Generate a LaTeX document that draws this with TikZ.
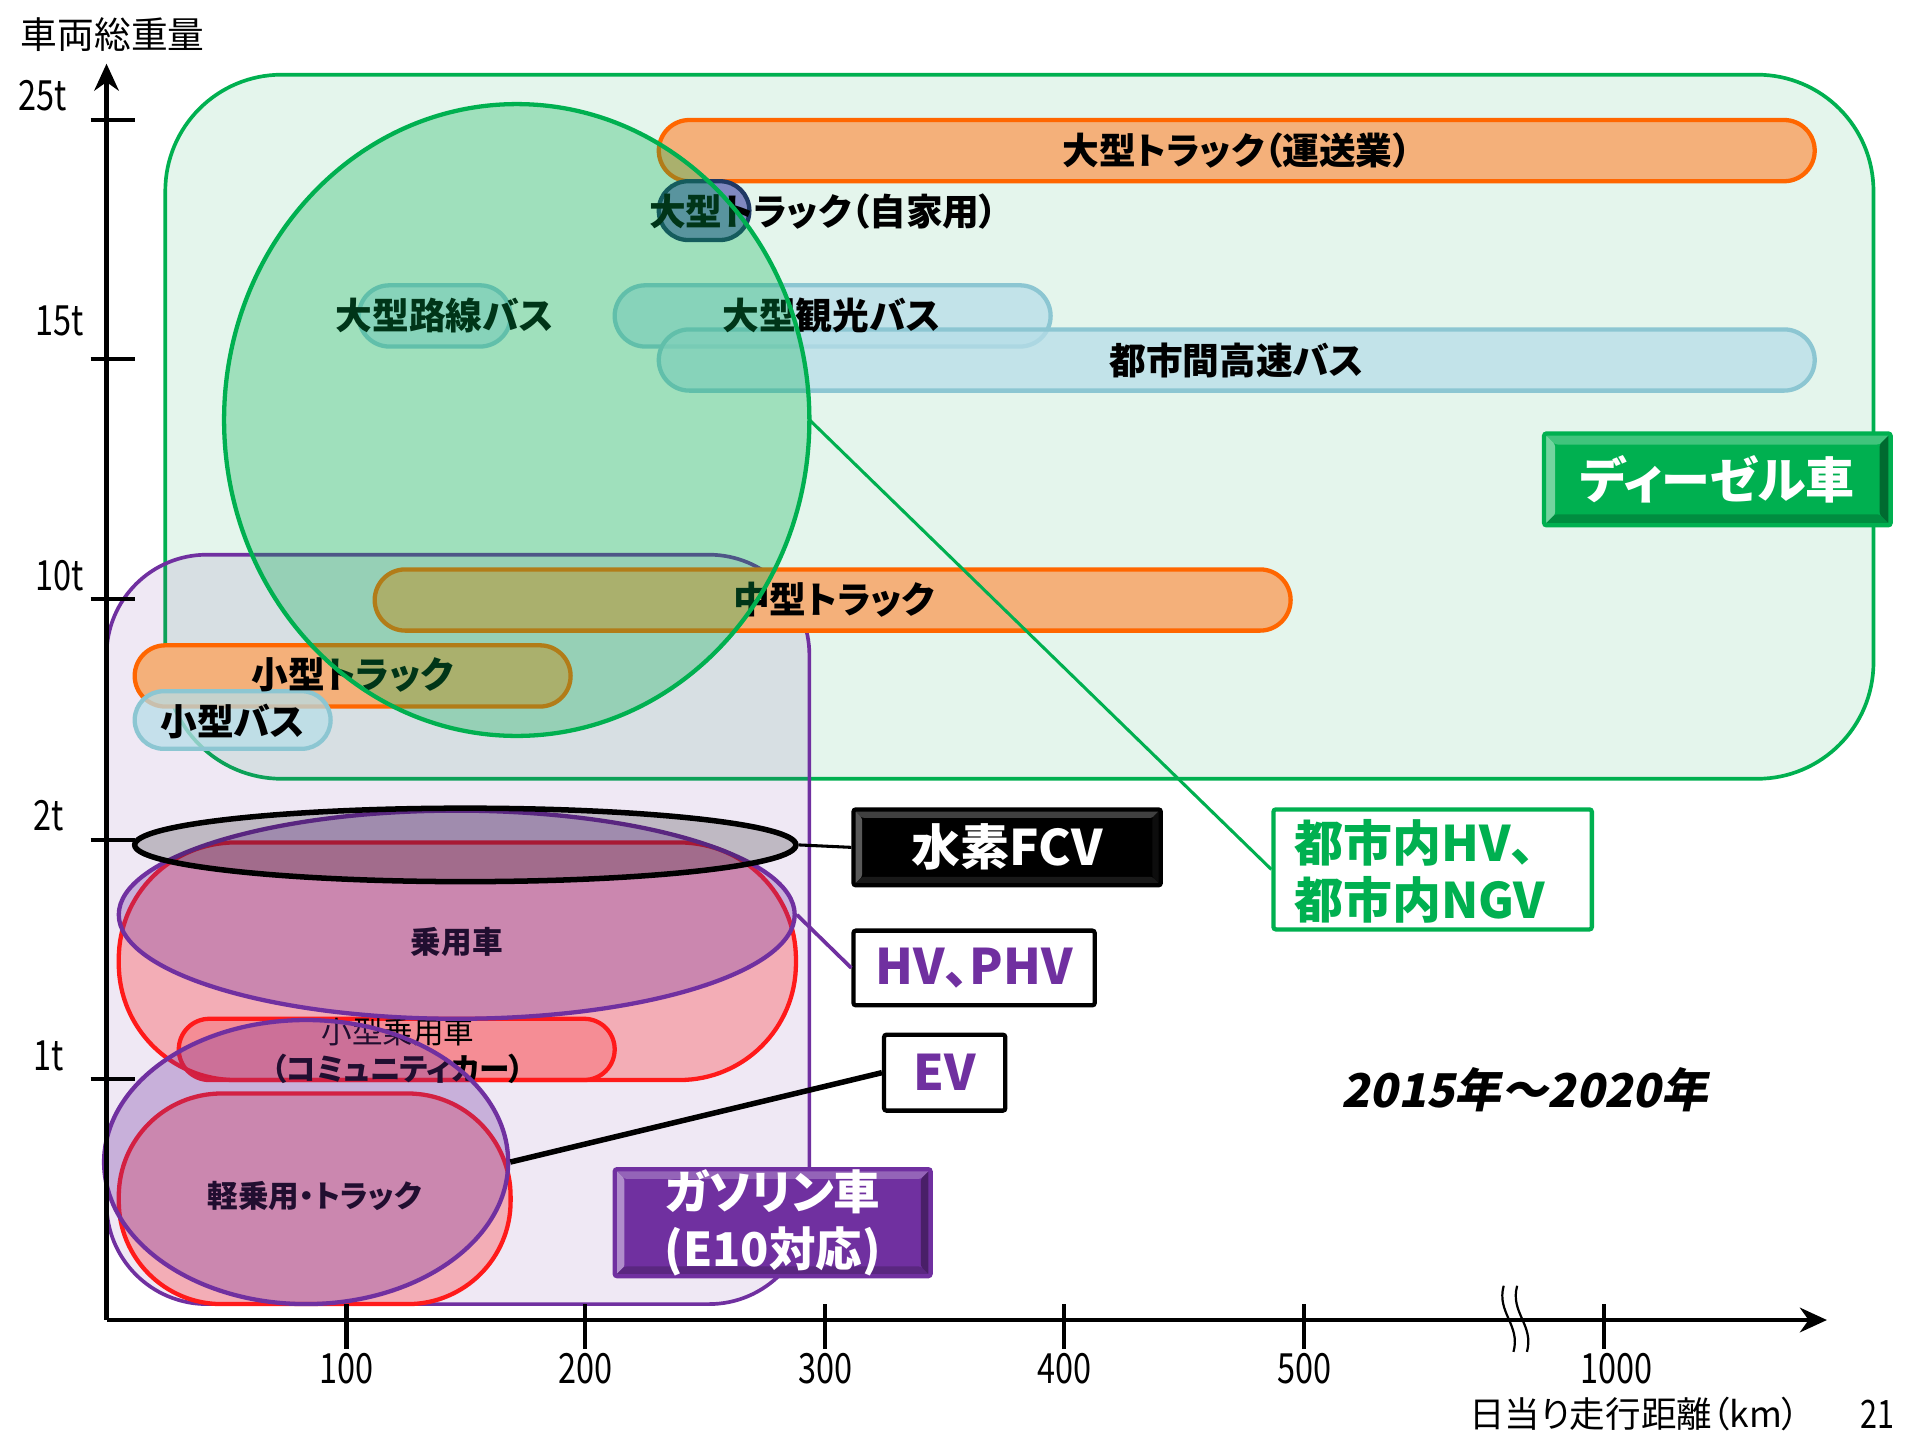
\documentclass[tikz,border=0pt]{standalone}
\usepackage{fontspec}
\setmainfont{Noto Sans CJK JP}[RawFeature={+palt}]
\newfontfamily\narrowf{Noto Sans CJK JP}[FakeStretch=0.78]
\newfontfamily\slantf{Noto Sans CJK JP}[FakeSlant=0.2,RawFeature={+palt}]
\usetikzlibrary{shapes.misc,shapes.geometric,arrows.meta}
\definecolor{dgreen}{HTML}{00B050}
\definecolor{dbg}{HTML}{E4F5EC}
\definecolor{vpurple}{HTML}{7030A0}
\definecolor{tfill}{HTML}{F4B07A}
\definecolor{tline}{HTML}{FF6600}
\definecolor{bfill}{HTML}{B7DEE8}
\definecolor{bline}{HTML}{8CC6D2}
\definecolor{navy}{HTML}{1F3864}
\definecolor{jfill}{HTML}{8088C0}
\definecolor{rline}{HTML}{FF1A1A}
\begin{document}
\begin{tikzpicture}[x=1pt,y=-1pt,
  pill/.style={rounded rectangle, inner sep=0pt, line width=3.5pt},
  truck/.style={pill, draw=tline, fill=tfill},
  bus/.style={pill, draw=bline, fill=bfill, fill opacity=0.75},
  lab/.style={inner sep=0pt, font=\fontsize{30}{34}\selectfont\bfseries},
  ell/.style={ellipse, inner sep=0pt},
  tickmark/.style={line width=3.5pt},
  ticklab/.style={inner sep=0pt, font=\narrowf\fontsize{34}{38}\selectfont},
  keybox/.style={rectangle, inner sep=0pt, line width=3.5pt, rounded corners=2pt},
  keytext/.style={font=\fontsize{40}{46}\selectfont\bfseries},
  bevel/.style n args={5}{path picture={
    \fill[#1] (path picture bounding box.north west) -- (path picture bounding box.north east) -- ([shift={(-#5,-#5)}]path picture bounding box.north east) -- ([shift={(#5,-#5)}]path picture bounding box.north west) -- cycle;
    \fill[#2] (path picture bounding box.north west) -- ([shift={(#5,-#5)}]path picture bounding box.north west) -- ([shift={(#5,#5)}]path picture bounding box.south west) -- (path picture bounding box.south west) -- cycle;
    \fill[#3] (path picture bounding box.south west) -- ([shift={(#5,#5)}]path picture bounding box.south west) -- ([shift={(-#5,#5)}]path picture bounding box.south east) -- (path picture bounding box.south east) -- cycle;
    \fill[#4] (path picture bounding box.south east) -- ([shift={(-#5,#5)}]path picture bounding box.south east) -- ([shift={(-#5,-#5)}]path picture bounding box.north east) -- (path picture bounding box.north east) -- cycle;
  }}
]
\useasboundingbox (0,0) rectangle (1568,1176);
\fill[white] (0,0) rectangle (1568,1176);

% diesel region
\draw[dgreen, fill=dbg, line width=3pt, rounded corners=95pt] (135,61) rectangle (1530,636);
% gasoline region
\draw[vpurple, fill=vpurple, fill opacity=0.11, line width=3pt, rounded corners=82pt] (87,453) rectangle (661,1065);

% heavy vehicle bars
\node[truck, minimum width=944pt, minimum height=50pt] (t1) at (1010,123) {};
\node[pill, draw=navy, fill=jfill, minimum width=74pt, minimum height=48pt] (t2) at (575,172) {};
\node[bus, minimum width=124pt, minimum height=50pt] (b1) at (355,258) {};
\node[bus, minimum width=356pt, minimum height=50pt] (b2) at (680,258) {};
\node[bus, minimum width=944pt, minimum height=50pt] (b3) at (1010,294) {};
\node[truck, minimum width=748pt, minimum height=50pt] (t3) at (680,490) {};
\node[truck, minimum width=356pt, minimum height=50pt] (t4) at (288,552) {};
\node[bus, minimum width=160pt, minimum height=47pt] (b4) at (190,588) {};

\node[lab] (l1) at (1010,123) {大型トラック（運送業）};
\node[lab, anchor=west] (l2) at (530,173) {大型トラック（自家用）};
\node[lab] (l3) at (363,258) {大型路線バス};
\node[lab] (l4) at (679,258) {大型観光バス};
\node[lab] (l5) at (1010,294) {都市間高速バス};
\node[lab] (l6) at (681,490) {中型トラック};
\node[lab] (l7) at (288,551) {小型トラック};
\node[lab] (l8) at (190,589) {小型バス};

% urban HV / NGV circle
\node[ell, fill=dgreen, fill opacity=0.3, minimum width=478pt, minimum height=516pt] (big) at (422,343) {};
\draw[dgreen, line width=3.5pt] (big.center) ellipse [x radius=239pt, y radius=258pt];

% passenger cars
\draw[rline, fill=red, fill opacity=0.25, line width=3.5pt, rounded corners=95pt] (97,688) rectangle (650,882);
\node[pill, draw=rline, fill=red, fill opacity=0.18, minimum width=356pt, minimum height=50pt] (sp) at (324,857) {};
\draw[rline, fill=red, fill opacity=0.25, line width=3.5pt, rounded corners=84pt] (97,893) rectangle (417,1065);

\node[font=\fontsize{25}{28}\selectfont\bfseries] (l9) at (373,769) {乗用車};
\node[font=\fontsize{25}{28}\selectfont] (l10) at (325,843) {小型乗用車};
\node[font=\fontsize{25}{28}\selectfont\bfseries] (l11) at (325,873) {（コミュニティカー）};
\node[font=\fontsize{25}{28}\selectfont\bfseries] (l12) at (257,977) {軽乗用・トラック};

\node[ell, draw=vpurple, line width=3.5pt, fill=vpurple, fill opacity=0.3, minimum width=552pt, minimum height=170pt] (hv) at (373,747) {};
\node[ell, draw=vpurple, line width=3.5pt, fill=vpurple, fill opacity=0.3, minimum width=330pt, minimum height=232pt] (ev) at (250,949) {};
\node[ell, draw=black, line width=4.5pt, fill=black, fill opacity=0.2, minimum width=540pt, minimum height=60pt] (fcv) at (380,690) {};

% key boxes
\node[keybox, fill=black, draw=black, minimum width=251pt, minimum height=62pt, text=white, keytext,
  bevel={black!75}{black!65}{black!90}{black!95}{7pt}] (fcvbox) at (822.5,692) {水素FCV};
\node[keybox, fill=white, draw=black, minimum width=197pt, minimum height=61pt, text=vpurple, keytext] (hvbox) at (795.5,790.5) {HV、PHV};
\node[keybox, fill=white, draw=black, minimum width=99pt, minimum height=62pt, text=vpurple, keytext] (evbox) at (771.5,876) {EV};
\node[keybox, fill=white, draw=dgreen, minimum width=260pt, minimum height=98pt] (urban) at (1170,710) {};
\node[keytext, text=dgreen, anchor=west, inner sep=0pt] (u1) at (1057,688) {都市内HV、};
\node[keytext, text=dgreen, anchor=west, inner sep=0pt] (u2) at (1057,735) {都市内NGV};
\node[keybox, fill=dgreen, draw=dgreen, minimum width=283pt, minimum height=75pt, text=white, keytext,
  bevel={dgreen!75!white}{dgreen!55!white}{dgreen!80!black}{dgreen!60!black}{9pt}] (dsl) at (1402.5,391.5) {ディーゼル車};
\node[keybox, fill=vpurple, draw=vpurple, minimum width=258pt, minimum height=87pt, text=white, align=center,
  font=\fontsize{38}{47}\selectfont\bfseries,
  bevel={vpurple!75!white}{vpurple!55!white}{vpurple!80!black}{vpurple!65!black}{8pt}] (gas) at (631,998.5) {ガソリン車\\(E10対応)};

% connectors
\draw[line width=2.5pt] (fcv.east) -- (fcvbox.west);
\draw[vpurple, line width=3pt] (hv.east) -- (hvbox.west);
\draw[line width=4.5pt] (ev.east) -- (evbox.west);
\draw[dgreen, line width=2.5pt] (big.east) -- (urban.west);

\node[font=\slantf\bfseries\fontsize{38}{42}\selectfont] (yr) at (1245,890) {2015年～2020年};

% axes
\coordinate (o) at (87,1078);
\coordinate (ytip) at (87,52);
\coordinate (xtip) at (1492,1078);
\draw[line width=4pt, -{Stealth[length=22pt,width=20pt,inset=7pt]}] (o) -- (ytip);
\draw[line width=4pt, -{Stealth[length=22pt,width=20pt,inset=7pt]}] (o) -- (xtip);
\foreach \yy in {98,293,489,686,881} \draw[tickmark] (74,\yy) -- (110,\yy);
\foreach \xx in {283,478,674,869,1065,1310} \draw[tickmark] (\xx,1065) -- (\xx,1102);
\draw[line width=1.8pt] (1228,1050) .. controls (1222,1072) and (1242,1082) .. (1236,1104);
\draw[line width=1.8pt] (1239,1050) .. controls (1233,1072) and (1253,1082) .. (1247,1104);

\node[ticklab] (y25) at (35,78) {25t};
\node[ticklab] (y15) at (49,262) {15t};
\node[ticklab] (y10) at (49,470) {10t};
\node[ticklab] (y2) at (40,666) {2t};
\node[ticklab] (y1) at (40,862) {1t};
\node[ticklab] (x100) at (283,1118) {100};
\node[ticklab] (x200) at (478,1118) {200};
\node[ticklab] (x300) at (674,1118) {300};
\node[ticklab] (x400) at (869,1118) {400};
\node[ticklab] (x500) at (1065,1118) {500};
\node[ticklab] (x1000) at (1320,1118) {1000};

\node[font=\fontsize{30}{34}\selectfont] (ylab) at (92,28) {車両総重量};
\node[font=\fontsize{29}{33}\selectfont] (xlab) at (1335,1155) {日当り走行距離（km）};
\node[font=\narrowf\fontsize{32}{36}\selectfont] (pg) at (1533,1155) {21};
\end{tikzpicture}
\end{document}
